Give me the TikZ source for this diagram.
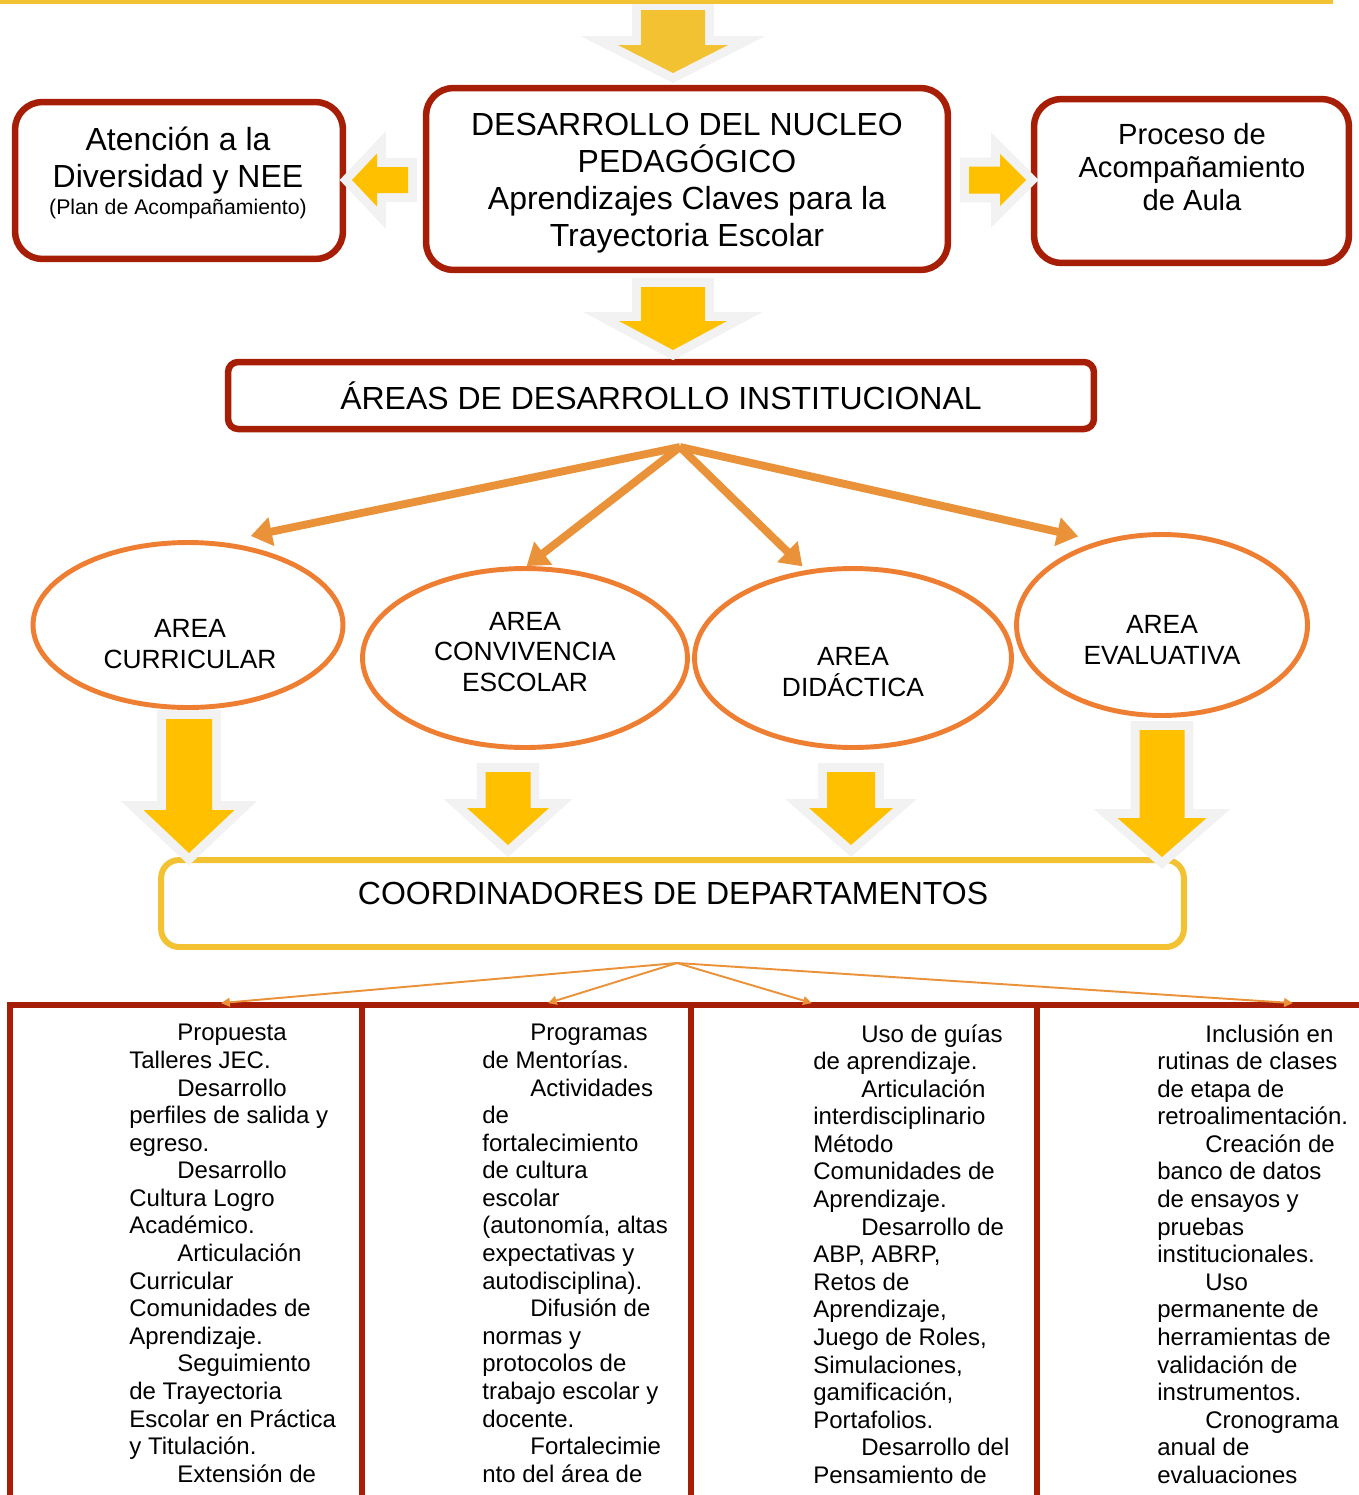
\documentclass[tikz,border=0pt]{standalone}
\usepackage{fontspec}
\setmainfont{Liberation Sans}
\usetikzlibrary{shapes.geometric,arrows.meta,positioning}

\definecolor{boxred}{RGB}{166,30,6}
\definecolor{gold}{RGB}{242,194,50}
\definecolor{amber}{RGB}{255,192,0}
\definecolor{halo}{RGB}{242,242,242}
\definecolor{branchorange}{RGB}{233,146,58}
\definecolor{ringorange}{RGB}{238,126,50}

\tikzstyle{redbox}=[draw=boxred, line width=3.7pt, rounded corners=0.55cm, inner sep=0pt]
\tikzstyle{goldbox}=[draw=gold, line width=3.4pt, rounded corners=0.36cm]
\tikzstyle{ring}=[ellipse, draw=ringorange, line width=2.8pt, inner sep=0pt]
\tikzstyle{cell}=[rectangle, draw=boxred, line width=3.7pt, outer sep=0pt, minimum height=11.1cm]
\tikzstyle{bigtext}=[font=\fontsize{18.2}{21.1}\selectfont, align=center, inner sep=0pt]
\tikzstyle{midtext}=[font=\fontsize{16.6}{19}\selectfont, align=center, inner sep=0pt]
\tikzstyle{ringtext}=[font=\fontsize{15}{17.6}\selectfont, align=center, inner sep=0pt]
\tikzstyle{coltext}=[font=\fontsize{13.66}{15.7}\selectfont, align=left, anchor=north west, inner sep=0pt]
\tikzstyle{branch}=[-{Triangle[length=12pt,width=16pt]}, draw=branchorange, line width=4.5pt]
\tikzstyle{twig}=[-{Triangle[length=5pt,width=5pt]}, draw=branchorange, line width=1.1pt]
\tikzstyle{blockarrow}=[preaction={fill=halo, draw=halo, line width=10.2pt, line join=miter}]

\newcommand{\vblock}[7]{\path[blockarrow, fill=#1] (#2-#6,#5) -- (#2+#6,#5) -- (#2+#6,#4) -- (#2+#7,#4) -- (#2,#3) -- (#2-#7,#4) -- (#2-#6,#4) -- cycle;}
\newcommand{\hblock}[7]{\path[blockarrow, fill=#1] (#5,#3-#6) -- (#4,#3-#6) -- (#4,#3-#7) -- (#2,#3) -- (#4,#3+#7) -- (#4,#3+#6) -- (#5,#3+#6) -- cycle;}
\newcommand{\colindent}{\hspace*{0.96cm}}

\begin{document}
\begin{tikzpicture}[x=0.02cm, y=-0.02cm]
\useasboundingbox (0,0) rectangle (1359,1495);

\node[redbox, minimum width=10.44cm, minimum height=3.64cm] (nucleo) at (687,179) {};
\node[bigtext] (nucleotxt) at (687,183) {DESARROLLO DEL NUCLEO\\PEDAGÓGICO\\Aprendizajes Claves para la\\Trayectoria Escolar};
\node[redbox, minimum width=6.56cm, minimum height=3.14cm] (diversidad) at (179,180.5) {};
\node[bigtext] (diversidadtxt) at (178,173) {Atención a la\\Diversidad y NEE\\[-5.5pt]{\fontsize{12.1}{14}\selectfont (Plan de Acompañamiento)}};
\node[redbox, minimum width=6.3cm, minimum height=3.28cm] (aula) at (1191.5,181) {};
\node[midtext] (aulatxt) at (1192,167) {Proceso de\\Acompañamiento\\de Aula};
\node[redbox, bigtext, minimum width=17.32cm, minimum height=1.34cm, rounded corners=0.2cm] (areas) at (661,395.5) {ÁREAS DE DESARROLLO INSTITUCIONAL};

\node[ring, minimum width=6.2cm, minimum height=3.3cm] (curricular) at (188,625) {};
\node[ringtext] (curriculartxt) at (190,644) {AREA\\CURRICULAR};
\node[ring, minimum width=6.5cm, minimum height=3.58cm] (convivencia) at (525,658) {};
\node[ringtext] (convivenciatxt) at (525,652) {AREA\\CONVIVENCIA\\ESCOLAR};
\node[ring, minimum width=6.34cm, minimum height=3.58cm] (didactica) at (853,658) {};
\node[ringtext] (didacticatxt) at (853,672) {AREA\\DIDÁCTICA};
\node[ring, minimum width=5.82cm, minimum height=3.62cm] (evaluativa) at (1162,625) {};
\node[ringtext] (evaluativatxt) at (1162,640) {AREA\\EVALUATIVA};

\coordinate (fork) at (680,447);
\draw[branch, shorten >=17pt] (fork) -- (curricular.68);
\draw[branch] (fork) -- (convivencia.89);
\draw[branch, shorten >=3pt] (fork) -- (didactica.118);
\draw[branch, shorten >=12pt] (fork) -- (evaluativa.127);

\node[goldbox, minimum width=20.46cm, minimum height=1.74cm] (coord) at (672.5,903.5) {};
\node[bigtext] (coordtxt) at (673,893) {COORDINADORES DE DEPARTAMENTOS};

\node[cell, minimum width=7.04cm] (c1) at (186,1282.5) {};
\node[cell, minimum width=6.58cm, right=0pt of c1] (c2) {};
\node[cell, minimum width=6.92cm, right=0pt of c2] (c3) {};
\node[cell, minimum width=7.66cm, right=0pt of c3] (c4) {};

\coordinate (hub) at (677,963);
\path (c1.north west) ++(211,-2) coordinate (drop1);
\path (c2.north west) ++(186,-2) coordinate (drop2);
\path (c3.north west) ++(121,-2) coordinate (drop3);
\path (c4.north west) ++(256,-2) coordinate (drop4);
\foreach \i in {1,...,4}
  \draw[twig] (hub) -- (drop\i);

\node[coltext] (c1txt) at (129,1024) {\colindent Propuesta\\Talleres JEC.\\\colindent Desarrollo\\perfiles de salida y\\egreso.\\\colindent Desarrollo\\Cultura Logro\\Académico.\\\colindent Articulación\\Curricular\\Comunidades de\\Aprendizaje.\\\colindent Seguimiento\\de Trayectoria\\Escolar en Práctica\\y Titulación.\\\colindent Extensión de};
\node[coltext] (c2txt) at (482,1024) {\colindent Programas\\de Mentorías.\\\colindent Actividades\\de\\fortalecimiento\\de cultura\\escolar\\(autonomía, altas\\expectativas y\\autodisciplina).\\\colindent Difusión de\\normas y\\protocolos de\\trabajo escolar y\\docente.\\\colindent Fortalecimie\\nto del área de};
\node[coltext] (c3txt) at (813,1024) {\colindent Uso de guías\\de aprendizaje.\\\colindent Articulación\\interdisciplinario\\Método\\Comunidades de\\Aprendizaje.\\\colindent Desarrollo de\\ABP, ABRP,\\Retos de\\Aprendizaje,\\Juego de Roles,\\Simulaciones,\\gamificación,\\Portafolios.\\\colindent Desarrollo del\\Pensamiento de};
\node[coltext] (c4txt) at (1157,1024) {\colindent Inclusión en\\rutinas de clases\\de etapa de\\retroalimentación.\\\colindent Creación de\\banco de datos\\de ensayos y\\pruebas\\institucionales.\\\colindent Uso\\permanente de\\herramientas de\\validación de\\instrumentos.\\\colindent Cronograma\\anual de\\evaluaciones};

\vblock{gold}{673}{73}{45}{10}{32}{55}
\vblock{amber}{673}{350}{321}{287}{32}{54}
\hblock{amber}{352}{180}{377}{408}{13}{26.5}
\hblock{amber}{1026}{180}{1000}{969}{13.5}{26}
\vblock{amber}{189}{853}{810}{719}{23}{45.5}
\vblock{amber}{508}{845}{808}{772}{22.5}{41}
\vblock{amber}{851}{845}{808}{772}{24}{42}
\vblock{amber}{1162}{857}{818}{730}{22.5}{44.5}

\draw[gold, line width=3.4pt] (0,1) -- (1333,1);
\end{tikzpicture}
\end{document}
